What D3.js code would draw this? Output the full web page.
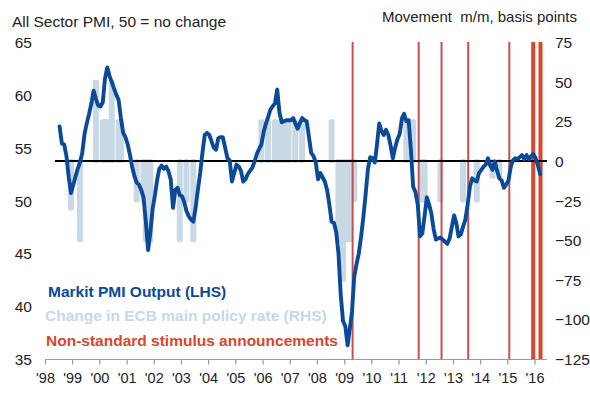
<!DOCTYPE html>
<html><head><meta charset="utf-8">
<script src="https://cdn.jsdelivr.net/npm/d3@7"></script>
<style>
html,body{margin:0;padding:0;background:#fff;}
svg{display:block;font-family:"Liberation Sans",Arial,sans-serif;}
</style></head>
<body><svg id="c" width="590" height="395"></svg>
<script>
// ---- data ----
const pmiStart = [1998, 6]; // July 1998 (month index 0-based)
const pmiValues = [
 57.0,55.4,55.3,54.2,52.2,50.7,
 51.5,52.3,53.0,53.6,54.5,56.3,57.3,58.2,59.2,60.4,59.6,59.0,
 58.9,59.3,61.5,62.6,61.8,61.2,60.6,60.0,59.5,57.8,56.4,56.0,
 55.3,54.3,53.2,52.3,51.7,51.5,51.0,50.3,48.0,45.3,47.0,49.2,
 50.5,52.0,53.0,53.3,53.0,53.2,52.8,52.0,49.3,51.0,51.2,50.5,
 50.4,49.8,49.0,48.5,48.2,48.0,49.3,51.0,52.6,54.5,56.2,56.4,
 56.2,55.6,55.0,54.8,55.9,56.0,56.0,55.0,54.0,53.8,51.8,52.6,
 53.4,53.2,52.8,51.8,52.0,52.5,52.8,53.1,53.7,54.4,54.9,55.3,
 56.5,57.3,57.9,58.6,58.9,59.2,60.5,58.3,57.4,57.5,57.6,57.6,
 57.6,57.8,57.3,56.8,57.3,57.8,57.6,57.5,56.0,54.5,54.2,53.6,
 52.0,52.6,52.2,51.8,51.0,49.6,48.0,47.9,47.0,45.0,41.0,38.6,
 38.1,36.3,37.8,39.5,42.8,44.0,45.0,46.6,48.5,50.6,53.0,54.1,
 54.0,53.6,55.2,57.3,56.6,56.2,56.7,56.2,55.2,54.0,55.0,55.8,
 56.3,57.8,58.2,57.5,57.6,54.8,51.3,50.8,49.6,46.6,46.9,48.5,
 50.3,49.6,48.8,47.3,46.3,46.4,46.5,46.3,46.1,45.9,46.4,47.5,
 48.6,47.8,46.6,46.8,47.5,48.2,49.6,51.3,52.1,51.9,51.8,52.6,
 52.9,53.2,53.4,54.0,53.3,52.9,53.7,52.8,52.1,51.9,51.2,51.5,
 51.9,53.2,53.8,54.0,53.9,54.1,54.3,53.9,54.3,53.9,54.2,54.4,
 54.0,53.3,52.5
];
const rateMonths = ["1998-12","1999-04","1999-11","2000-02","2000-03","2000-04","2000-06","2000-09","2000-10",
 "2001-05","2001-08","2001-09","2001-11","2002-12","2003-03","2003-06",
 "2005-12","2006-03","2006-06","2006-08","2006-10","2006-12","2007-03","2007-06",
 "2008-07","2008-10","2008-11","2008-12","2009-01","2009-03","2009-04","2009-05",
 "2011-04","2011-07","2011-11","2011-12","2012-07","2013-05","2013-11","2014-06","2014-09","2016-03"];
const rateChanges = [-30,-50,50,25,25,25,50,25,25,
 -25,-25,-50,-50,-50,-25,-50,
 25,25,25,25,25,25,25,25,
 25,-50,-50,-75,-50,-50,-25,-25,
 25,25,-25,-25,-25,-25,-25,-10,-10,-5];
const stimulusDates = [2009.31, 2011.74, 2012.58, 2013.56, 2015.07, 2015.95, 2016.22];
const majorStimulus = [false,false,false,false,false,true,true];
const yearTicks = d3.range(1998, 2017);
const leftTicks = [35,40,45,50,55,60,65];
const rightTicks = [-125,-100,-75,-50,-25,0,25,50,75];
const leftTitle = "All Sector PMI, 50 = no change";
const rightTitle = "Movement\u00a0 m/m, basis points";
const legendItems = ["Markit PMI Output (LHS)","Change in ECB main policy rate (RHS)","Non-standard stimulus announcements"];

// ---- helpers ----
const midMonth = (y, m) => new Date(y, m, 16);
const decDate = d => { const y = Math.floor(d); const f = d - y; return new Date(y, 0, 1 + Math.round(f * 365)); };

const svg = d3.select("#c");
const x = d3.scaleTime().domain([new Date(1998,0,1), new Date(2017,0,1)]).range([45, 561.8]);
const yL = d3.scaleLinear().domain([35, 65]).range([359, 42]);
const yR = d3.scaleLinear().domain([-125, 75]).range([359, 42]);

const barCol = "#c8d8e4", lineCol = "#0b4a99", redThin = "#c8504c", redThick = "#d8472b";

// bars
const bars = rateMonths.map((s, i) => { const [y, m] = s.split("-").map(Number); return {d: midMonth(y, m-1), v: rateChanges[i]}; });
svg.append("g").selectAll("rect").data(bars).join("rect")
  .attr("x", d => x(d.d) - 1).attr("width", 2)
  .attr("y", d => yR(Math.max(0, d.v)))
  .attr("height", d => Math.abs(yR(d.v) - yR(0)))
  .attr("fill", barCol).attr("stroke", barCol).attr("stroke-width", 4).attr("stroke-linejoin", "round");

// red lines
svg.append("g").selectAll("line").data(stimulusDates).join("line")
  .attr("x1", d => x(decDate(d))).attr("x2", d => x(decDate(d)))
  .attr("y1", yR(75)).attr("y2", yR(-125))
  .attr("stroke", (d, i) => majorStimulus[i] ? redThick : redThin)
  .attr("stroke-width", (d, i) => majorStimulus[i] ? 4 : 2);

// zero line
svg.append("line").attr("x1", 55).attr("x2", 547).attr("y1", yR(0)).attr("y2", yR(0))
  .attr("stroke", "#000").attr("stroke-width", 2);

// pmi line
const pmi = pmiValues.map((v, i) => ({d: midMonth(pmiStart[0], pmiStart[1] + i), v}));
svg.append("path").datum(pmi)
  .attr("d", d3.line().x(d => x(d.d)).y(d => yL(d.v)))
  .attr("fill", "none").attr("stroke", lineCol).attr("stroke-width", 3.9).attr("stroke-linejoin", "round").attr("stroke-linecap", "round");

// x axis
const xa = svg.append("g").attr("transform", "translate(0,359.5)")
  .call(d3.axisBottom(x).tickValues(yearTicks.map(y => new Date(y,0,1))).tickSize(5).tickSizeOuter(0).tickPadding(5)
    .tickFormat(d => "'" + String(d.getFullYear()).slice(2)));
xa.select(".domain").remove();
xa.append("line").attr("x1", x(new Date(1998,0,1))).attr("x2", 547).attr("stroke", "#999").attr("stroke-width", 1.2);
xa.selectAll(".tick line").attr("stroke", "#999").attr("stroke-width", 1.2);
xa.selectAll("text").attr("fill", "#222").style("font-size", "14.5px").attr("dy", "0.95em");

// left axis
const la = svg.append("g").attr("transform", "translate(32,0)")
  .call(d3.axisLeft(yL).tickValues(leftTicks).tickSize(0).tickPadding(0));
la.select(".domain").remove();
la.selectAll("text").attr("fill", "#222").style("font-size", "15.5px").attr("dy", "0.36em");

// right axis
const ra = svg.append("g").attr("transform", "translate(555,0)")
  .call(d3.axisRight(yR).tickValues(rightTicks).tickSize(0).tickPadding(0));
ra.select(".domain").remove();
ra.selectAll("text").attr("fill", "#222").style("font-size", "15.5px").attr("dy", "0.36em");

// titles
svg.append("text").attr("x", 12).attr("y", 26.5).attr("fill", "#222").style("font-size", "15.5px").text(leftTitle);
svg.append("text").attr("x", 577).attr("y", 21.5).attr("text-anchor", "end").attr("fill", "#222").style("font-size", "15px").text(rightTitle);

// legend
const legCols = [lineCol, barCol, redThick];
const legX = [48, 45, 46];
const legY = [296.5, 321, 346];
svg.append("g").selectAll("text").data(legendItems).join("text")
  .attr("x", (d, i) => legX[i]).attr("y", (d, i) => legY[i])
  .attr("fill", (d, i) => legCols[i]).style("font-size", "15.5px").style("font-weight", "bold")
  .text(d => d);
</script></body></html>
